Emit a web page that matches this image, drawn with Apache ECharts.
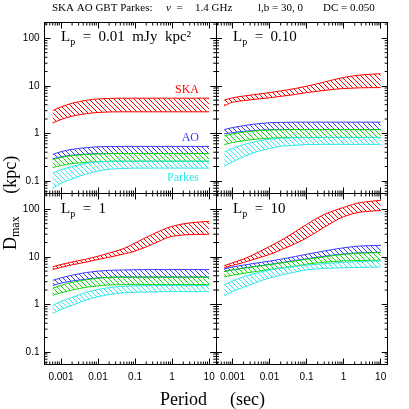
<!DOCTYPE html>
<html><head><meta charset="utf-8">
<script src="https://cdn.jsdelivr.net/npm/echarts@6/dist/echarts.min.js"></script>
<style>html,body{margin:0;padding:0;background:#fff}#c{width:409px;height:409px}</style>
</head><body><div id="c"></div>
<script>
// ---- data ----
const periods = [0.0006, 0.001, 0.002, 0.005, 0.01, 0.02, 0.05, 0.1, 0.3, 1, 3, 10];

// Lp = 0.01
const ska1Hi = [3.0, 3.6, 4.3, 5.0, 5.3, 5.45, 5.5, 5.5, 5.5, 5.5, 5.5, 5.5];
const ska1Lo = [1.65, 1.95, 2.3, 2.6, 2.75, 2.82, 2.84, 2.84, 2.84, 2.84, 2.84, 2.84];
const ao1Hi  = [0.36, 0.41, 0.46, 0.50, 0.52, 0.527, 0.53, 0.53, 0.53, 0.53, 0.53, 0.53];
const ao1Lo  = [0.29, 0.32, 0.345, 0.365, 0.372, 0.375, 0.375, 0.375, 0.375, 0.375, 0.375, 0.375];
const gbt1Hi = [0.28, 0.31, 0.34, 0.36, 0.37, 0.375, 0.375, 0.375, 0.375, 0.375, 0.375, 0.375];
const gbt1Lo = [0.19, 0.21, 0.23, 0.245, 0.253, 0.258, 0.259, 0.259, 0.259, 0.259, 0.259, 0.259];
const pks1Hi = [0.145, 0.17, 0.2, 0.235, 0.25, 0.257, 0.259, 0.259, 0.259, 0.259, 0.259, 0.259];
const pks1Lo = [0.07, 0.088, 0.11, 0.14, 0.16, 0.175, 0.182, 0.185, 0.185, 0.185, 0.185, 0.185];

// Lp = 0.10
const ska2Hi = [5.0, 5.6, 6.1, 6.7, 7.2, 7.8, 8.8, 9.8, 12, 15, 17, 18];
const ska2Lo = [3.8, 4.5, 4.9, 5.3, 5.6, 6.0, 6.6, 7.2, 8.0, 8.8, 9.1, 9.2];
const ao2Hi  = [1.2, 1.32, 1.45, 1.6, 1.67, 1.7, 1.72, 1.72, 1.72, 1.72, 1.72, 1.72];
const ao2Lo  = [0.98, 1.03, 1.1, 1.16, 1.19, 1.2, 1.2, 1.2, 1.2, 1.2, 1.2, 1.2];
const gbt2Hi = [0.88, 0.97, 1.06, 1.14, 1.18, 1.19, 1.2, 1.2, 1.2, 1.2, 1.2, 1.2];
const gbt2Lo = [0.58, 0.64, 0.7, 0.76, 0.79, 0.81, 0.82, 0.82, 0.82, 0.82, 0.82, 0.82];
const pks2Hi = [0.4, 0.48, 0.58, 0.69, 0.75, 0.79, 0.81, 0.82, 0.82, 0.82, 0.82, 0.82];
const pks2Lo = [0.2, 0.25, 0.32, 0.42, 0.48, 0.53, 0.56, 0.58, 0.585, 0.585, 0.585, 0.585];

// Lp = 1
const ska3Hi = [6.2, 6.9, 7.8, 9.0, 10.3, 12, 15, 19.5, 30, 44, 52, 56];
const ska3Lo = [5.4, 6.0, 6.8, 7.8, 8.8, 9.8, 11.5, 13.2, 18.5, 27, 29.5, 30];
const ao3Hi  = [3.2, 3.6, 4.1, 4.7, 5.0, 5.2, 5.3, 5.35, 5.4, 5.4, 5.4, 5.4];
const ao3Lo  = [2.5, 2.8, 3.1, 3.4, 3.6, 3.7, 3.75, 3.75, 3.75, 3.75, 3.75, 3.75];
const gbt3Hi = [2.2, 2.5, 2.9, 3.3, 3.55, 3.7, 3.75, 3.75, 3.75, 3.75, 3.75, 3.75];
const gbt3Lo = [1.55, 1.75, 2.0, 2.3, 2.45, 2.55, 2.6, 2.6, 2.6, 2.6, 2.6, 2.6];
const pks3Hi = [0.95, 1.15, 1.4, 1.8, 2.05, 2.25, 2.4, 2.45, 2.5, 2.5, 2.5, 2.5];
const pks3Lo = [0.65, 0.78, 0.95, 1.25, 1.45, 1.6, 1.75, 1.8, 1.83, 1.85, 1.85, 1.85];

// Lp = 10
const ska4Hi = [6.5, 7.5, 9.0, 12.5, 16.5, 22, 34, 48, 78, 110, 140, 155];
const ska4Lo = [5.9, 6.6, 7.6, 9.5, 11.2, 14, 19, 25, 42, 70, 88, 95];
const ao4Hi  = [5.6, 6.1, 6.7, 7.5, 8.1, 8.9, 10.2, 11.3, 13.3, 15.5, 17, 17.5];
const ao4Lo  = [4.9, 5.3, 5.8, 6.4, 6.9, 7.5, 8.4, 9.1, 10.3, 11.5, 12.2, 12.5];
const gbt4Hi = [4.9, 5.3, 5.8, 6.4, 6.9, 7.4, 8.2, 8.9, 10, 11.3, 12, 12.3];
const gbt4Lo = [3.8, 4.1, 4.5, 5.0, 5.4, 5.8, 6.4, 7.0, 7.7, 8.2, 8.4, 8.5];
const pks4Hi = [2.6, 3.1, 3.8, 4.7, 5.3, 5.8, 6.3, 6.7, 7.2, 7.7, 8.0, 8.2];
const pks4Lo = [1.5, 1.85, 2.3, 3.0, 3.6, 4.1, 4.8, 5.3, 5.7, 5.9, 6.0, 6.1];

const panelLabels = ['0.01', '0.10', '1', '10'];
const xTickLabels = ['0.001', '0.01', '0.1', '1', '10'];
const yTickLabels = ['0.1', '1', '10', '100'];
const minorMult = [2, 3, 4, 5, 6, 7, 8, 9];
const decades = [1e-4, 1e-3, 1e-2, 1e-1, 1, 10, 100];

// ---- layout / style ----
const XMIN = 3.6e-4, XMAX = 15.5, YMIN = 0.054, YMAX = 216;
const boxes = [[44.5, 22.5], [216, 22.5], [44.5, 193.5], [216, 193.5]];
const BW = 171.7, BH = 171;
const colors = ['#ff0000', '#3a3aff', '#10d810', '#30e8e8'];
const panels = [
  [[ska1Hi, ska1Lo], [ao1Hi, ao1Lo], [gbt1Hi, gbt1Lo], [pks1Hi, pks1Lo]],
  [[ska2Hi, ska2Lo], [ao2Hi, ao2Lo], [gbt2Hi, gbt2Lo], [pks2Hi, pks2Lo]],
  [[ska3Hi, ska3Lo], [ao3Hi, ao3Lo], [gbt3Hi, gbt3Lo], [pks3Hi, pks3Lo]],
  [[ska4Hi, ska4Lo], [ao4Hi, ao4Lo], [gbt4Hi, gbt4Lo], [pks4Hi, pks4Lo]]
];

function hatch(color) {
  const c = document.createElement('canvas');
  c.width = 5; c.height = 5;
  const g = c.getContext('2d');
  g.strokeStyle = color; g.lineWidth = 1;
  for (const k of [-5, 0, 5]) { g.beginPath(); g.moveTo(k, 0); g.lineTo(k + 5, 5); g.stroke(); }
  return c;
}

// monotone cubic (pixel space) -> bezier segments
function bez(pts) {
  const n = pts.length, d = [], m = [];
  for (let k = 0; k < n - 1; k++) d.push((pts[k + 1][1] - pts[k][1]) / (pts[k + 1][0] - pts[k][0]));
  m[0] = d[0]; m[n - 1] = d[n - 2];
  for (let k = 1; k < n - 1; k++) m[k] = d[k - 1] * d[k] <= 0 ? 0 : 2 * d[k - 1] * d[k] / (d[k - 1] + d[k]);
  const segs = [];
  for (let k = 0; k < n - 1; k++) {
    const h = pts[k + 1][0] - pts[k][0];
    segs.push([pts[k][0] + h / 3, pts[k][1] + m[k] * h / 3, pts[k + 1][0] - h / 3, pts[k + 1][1] - m[k + 1] * h / 3, pts[k + 1][0], pts[k + 1][1]]);
  }
  return segs;
}
function curvePath(pts) {
  let s = 'M' + pts[0][0] + ' ' + pts[0][1];
  bez(pts).forEach(c => { s += 'C' + c.join(' '); });
  return s;
}
function bandPath(up, dn) {
  let s = curvePath(up);
  const r = dn.slice().reverse();
  s += 'L' + r[0][0] + ' ' + r[0][1];
  bez(r).forEach(c => { s += 'C' + c.join(' '); });
  return s + 'Z';
}

const xMinor = [], yMinor = [];
decades.forEach(d => minorMult.forEach(m => {
  const v = +(m * d).toPrecision(3);
  if (v > XMIN && v < XMAX) xMinor.push(v);
  if (v > YMIN && v < YMAX) yMinor.push(v);
}));

const fmt = v => String(+(+v).toPrecision(4));
const grids = [], xAxes = [], yAxes = [], series = [];
boxes.forEach((b, i) => {
  grids.push({left: b[0], top: b[1], width: BW, height: BH});
  const bottomRow = i >= 2, leftCol = i % 2 === 0;
  const common = {type: 'log', logBase: 10, gridIndex: i, splitLine: {show: false},
    axisLine: {show: true, onZero: false, lineStyle: {color: '#000', width: 1}},
    axisTick: {show: true, inside: true, length: 6, lineStyle: {color: '#000'}}};
  xAxes.push(Object.assign({}, common, {position: 'bottom', min: XMIN, max: XMAX,
    axisLabel: {show: bottomRow, showMinLabel: false, showMaxLabel: false, formatter: fmt,
      fontFamily: 'Liberation Sans', fontSize: 10, color: '#000', margin: 8}}));
  xAxes.push(Object.assign({}, common, {position: 'top', min: XMIN, max: XMAX, axisLabel: {show: false}}));
  yAxes.push(Object.assign({}, common, {position: 'left', min: YMIN, max: YMAX,
    axisLabel: {show: leftCol, showMinLabel: false, showMaxLabel: false, formatter: fmt,
      fontFamily: 'Liberation Sans', fontSize: 10, color: '#000', margin: 5}}));
  yAxes.push(Object.assign({}, common, {position: 'right', min: YMIN, max: YMAX, axisLabel: {show: false}}));

  panels[i].forEach((band, j) => {
    const hi = band[0], lo = band[1], col = colors[j], pat = {image: hatch(col), repeat: 'repeat'};
    series.push({type: 'custom', xAxisIndex: 2 * i, yAxisIndex: 2 * i, silent: true, clip: true, z: 3 + j,
      data: periods.map((p, k) => [p, lo[k], hi[k]]),
      encode: {x: 0, y: [1, 2]},
      renderItem: (params, api) => {
        if (params.dataIndex !== 0) return null;
        const up = periods.map((p, k) => api.coord([p, hi[k]]));
        const dn = periods.map((p, k) => api.coord([p, lo[k]]));
        return {type: 'group', children: [
          {type: 'path', shape: {pathData: bandPath(up, dn)}, style: {fill: pat, stroke: null}},
          {type: 'path', shape: {pathData: curvePath(up)}, style: {fill: null, stroke: col, lineWidth: 1}},
          {type: 'path', shape: {pathData: curvePath(dn)}, style: {fill: null, stroke: col, lineWidth: 1}}
        ]};
      }});
  });

  series.push({type: 'custom', xAxisIndex: 2 * i, yAxisIndex: 2 * i, silent: true, z: 10,
    data: xMinor.map(v => [v, 1]),
    renderItem: (params, api) => {
      const p = api.coord([api.value(0), 1]); const cs = params.coordSys;
      const st = {stroke: '#000', lineWidth: 1};
      return {type: 'group', children: [
        {type: 'line', shape: {x1: p[0], y1: cs.y, x2: p[0], y2: cs.y + 3}, style: st},
        {type: 'line', shape: {x1: p[0], y1: cs.y + cs.height, x2: p[0], y2: cs.y + cs.height - 3}, style: st}]};
    }});
  series.push({type: 'custom', xAxisIndex: 2 * i, yAxisIndex: 2 * i, silent: true, z: 10,
    data: yMinor.map(v => [0.01, v]),
    renderItem: (params, api) => {
      const p = api.coord([0.01, api.value(1)]); const cs = params.coordSys;
      const st = {stroke: '#000', lineWidth: 1};
      return {type: 'group', children: [
        {type: 'line', shape: {x1: cs.x, y1: p[1], x2: cs.x + 3, y2: p[1]}, style: st},
        {type: 'line', shape: {x1: cs.x + cs.width, y1: p[1], x2: cs.x + cs.width - 3, y2: p[1]}, style: st}]};
    }});
});

const serif = '"Liberation Serif", "Times New Roman", serif';
function txt(x, y, text, size, color, align, extra) {
  return Object.assign({type: 'text', x: x, y: y, silent: true, z: 100,
    style: {text: text, fontSize: size, fontFamily: serif, fill: color || '#000',
      align: align || 'left', textAlign: align || 'left', verticalAlign: 'middle', textVerticalAlign: 'middle'}}, extra || {});
}
function lpLabel(x, y, val, unit) {
  return {type: 'text', x: x, y: y, silent: true, z: 100,
    style: {text: '{m|L}{s|p}{m|  =  ' + val + (unit ? '  mJy  kpc²' : '') + '}',
      align: 'left', verticalAlign: 'middle', textAlign: 'left', textVerticalAlign: 'middle',
      rich: {m: {fontSize: 15, fontFamily: serif, fill: '#000', lineHeight: 20},
             s: {fontSize: 10, fontFamily: serif, fill: '#000', lineHeight: 8, verticalAlign: 'bottom'}}}};
}

const graphic = [
  txt(52, 8, 'SKA AO GBT Parkes:', 11),
  {type: 'text', x: 166, y: 8, silent: true, z: 100,
    style: {text: '{i|ν}{m|  =}', align: 'left', verticalAlign: 'middle', textAlign: 'left', textVerticalAlign: 'middle',
      rich: {i: {fontSize: 11, fontFamily: serif, fontStyle: 'italic', fill: '#000'},
             m: {fontSize: 11, fontFamily: serif, fill: '#000'}}}},
  txt(195, 8, '1.4 GHz', 11),
  txt(258, 8, 'l,b = 30, 0', 11),
  txt(323, 8, 'DC = 0.050', 11),
  lpLabel(61, 37, panelLabels[0], true),
  lpLabel(233, 37, panelLabels[1], false),
  lpLabel(61, 209, panelLabels[2], false),
  lpLabel(233, 209, panelLabels[3], false),
  txt(199, 90, 'SKA', 12, colors[0], 'right'),
  txt(199, 138, 'AO', 12, colors[1], 'right'),
  txt(199, 178, 'Parkes', 12, colors[3], 'right'),
  txt(160, 400, 'Period', 18),
  txt(230, 400, '(sec)', 18),
  {type: 'text', x: 11, y: 250, rotation: Math.PI / 2, silent: true, z: 100,
    style: {text: '{m|D}{s|max}{m|     (kpc)}', align: 'left', verticalAlign: 'middle', textAlign: 'left', textVerticalAlign: 'middle',
      rich: {m: {fontSize: 18, fontFamily: serif, fill: '#000', lineHeight: 22},
             s: {fontSize: 12, fontFamily: serif, fill: '#000', lineHeight: 9, verticalAlign: 'bottom'}}}}
];

const chart = echarts.init(document.getElementById('c'), null, {renderer: 'canvas'});
chart.setOption({animation: false, backgroundColor: '#fff', grid: grids, xAxis: xAxes, yAxis: yAxes, series: series, graphic: graphic});
</script></body></html>
